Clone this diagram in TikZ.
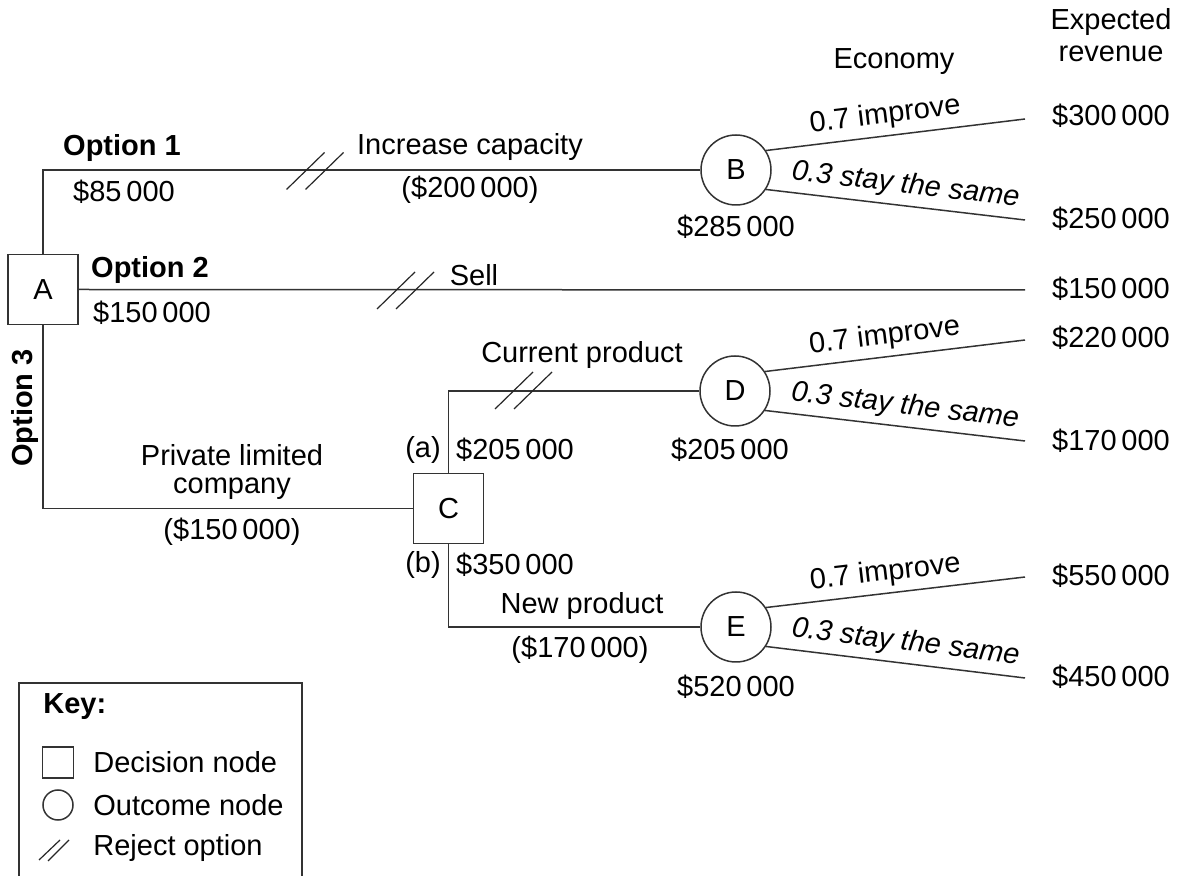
\documentclass[tikz,border=0pt]{standalone}
\usepackage{fontspec}
\setmainfont{Liberation Sans}
\begin{document}
\begin{tikzpicture}[x=0.5pt,y=-0.5pt,
  every node/.style={font=\fontsize{14.5}{17}\selectfont, inner sep=0pt},
  ln/.style={draw=black!80, line width=0.75pt},
  dec/.style={ln, rectangle, minimum size=35pt},
  outc/.style={ln, circle, minimum size=35pt},
  lbl/.style={align=center},
  prob/.style={sloped, above=3pt, inner sep=0pt},
  rej/.pic={\draw[black!85, line width=0.6pt] (-28.5,18.5)--(9.5,-18.5); \draw[black!85, line width=0.6pt] (-9.5,18.5)--(28.5,-18.5);}
]
\useasboundingbox (0,0) rectangle (1179,876);

% decision and outcome nodes
\node[dec] (A) at (43,289.5) {A};
\node[dec] (C) at (448.5,508.5) {C};
\node[outc] (B) at (736,170) {B};
\node[outc] (D) at (735,391) {D};
\node[outc] (E) at (736,627) {E};

% end points
\coordinate (S2) at (1025,290);
\coordinate (B1) at (1025,119);
\coordinate (B2) at (1025,220);
\coordinate (D1) at (1025,340);
\coordinate (D2) at (1025,441);
\coordinate (E1) at (1025,577);
\coordinate (E2) at (1025,678);

% connectors
\draw[ln] (A.north) |- (B.west);
\draw[ln] (A.east) -- (S2);
\draw[ln] (A.south) |- (C.west);
\draw[ln] (C.north) |- (D.west);
\draw[ln] (C.south) |- (E.west);

\draw[ln] (B.33) -- node[prob, pos=0.47] {0.7 improve} (B1);
\draw[ln] (B.-33) -- node[prob, pos=0.53] {\itshape 0.3 stay the same} (B2);
\draw[ln] (D.33) -- node[prob, pos=0.47] {0.7 improve} (D1);
\draw[ln] (D.-33) -- node[prob, pos=0.53] {\itshape 0.3 stay the same} (D2);
\draw[ln] (E.33) -- node[prob, pos=0.47] {0.7 improve} (E1);
\draw[ln] (E.-33) -- node[prob, pos=0.53] {\itshape 0.3 stay the same} (E2);

% reject marks
\pic at (315,171) {rej};
\pic at (405.5,290.5) {rej};
\pic at (523.5,390.5) {rej};

% labels
\node (op1) at (122,148) {\bfseries Option 1};
\node (v85) at (124,192) {\$85\,000};
\node (op2) at (150,270) {\bfseries Option 2};
\node (v150) at (152,313) {\$150\,000};
\node[rotate=90] (op3) at (25,408) {\bfseries Option 3};
\node (inc) at (470,147) {Increase capacity};
\node (c200) at (470,190) {(\$200\,000)};
\node (sell) at (474,275) {Sell};
\node[lbl] (plc) at (232,472) {Private limited\\[-3pt]company};
\node (c150) at (232,532) {(\$150\,000)};
\node (cur) at (582,355) {Current product};
\node (la) at (423,450) {(a)};
\node (v205a) at (515,450) {\$205\,000};
\node (v205b) at (730,450) {\$205\,000};
\node (lb) at (423,565) {(b)};
\node (v350) at (515,565) {\$350\,000};
\node (newp) at (582,606) {New product};
\node (c170) at (580,650) {(\$170\,000)};
\node (v285) at (736,227) {\$285\,000};
\node (v520) at (736,687) {\$520\,000};

\node (econ) at (894,62) {Economy};
\node[lbl] (exp) at (1111,35) {Expected\\[-1pt]revenue};
\node (r300) at (1111,116) {\$300\,000};
\node (r250) at (1111,219) {\$250\,000};
\node (r150) at (1111,289) {\$150\,000};
\node (r220) at (1111,338) {\$220\,000};
\node (r170) at (1111,441) {\$170\,000};
\node (r550) at (1111,576) {\$550\,000};
\node (r450) at (1111,677) {\$450\,000};

% key
\draw[ln] (19,880) -- (19,683) -- (302,683) -- (302,880);
\node[anchor=west] (key) at (43,707) {\bfseries Key:};
\node[ln, rectangle, minimum size=15.5pt] (ksq) at (58,762.5) {};
\node[anchor=west] (kdec) at (93,762) {Decision node};
\node[ln, circle, minimum size=15pt] (kci) at (58,805) {};
\node[anchor=west] (kout) at (93,805) {Outcome node};
\draw[black!85, line width=0.6pt] (39,860) -- (60,840);
\draw[black!85, line width=0.6pt] (48,861) -- (69,840);
\node[anchor=west] (krej) at (93,848) {Reject option};
\end{tikzpicture}
\end{document}
